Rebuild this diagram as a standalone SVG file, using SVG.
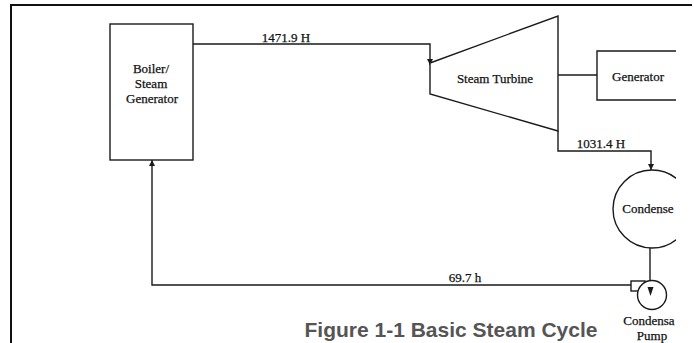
<svg xmlns="http://www.w3.org/2000/svg" width="694" height="343" viewBox="0 0 694 343">
<style>
.ln{fill:none;stroke:#1a1a1a;stroke-width:1.4}
.sh{fill:#fff;stroke:#1a1a1a;stroke-width:1.4}
.t{font-family:"Liberation Serif","Times New Roman",serif;font-size:13px;fill:#111;stroke:#111;stroke-width:0.25;text-anchor:middle}
.cap{font-family:"Liberation Sans",Arial,sans-serif;font-size:21px;font-weight:bold;fill:#555;text-anchor:middle}
</style>
<defs>
<marker id="ah" viewBox="0 0 10 10" refX="10" refY="5" markerWidth="8" markerHeight="6" markerUnits="userSpaceOnUse" orient="auto">
<path d="M0,0 L10,5 L0,10 Z" fill="#1a1a1a"/>
</marker>
<clipPath id="cl"><rect x="0" y="0" width="676" height="343"/></clipPath>
</defs>
<rect width="694" height="343" fill="#fff"/>
<g id="frame" fill="none" stroke="#111" stroke-width="2">
<path d="M11,343 V5 H692"/>
</g>
<g clip-path="url(#cl)">
<g id="connectors">
<path class="ln" d="M193,44 H430 V65" marker-end="url(#ah)"/>
<path class="ln" d="M558,131 V151 H651 V170" marker-end="url(#ah)"/>
<path class="ln" d="M558,75 H597"/>
<path class="ln" d="M650,248 V296" marker-end="url(#ah)"/>
<path class="ln" d="M631,285 H152 V160" marker-end="url(#ah)"/>
</g>
<g id="boiler">
<rect class="sh" x="110" y="24" width="83" height="136"/>
<text class="t" x="151" y="73">Boiler/</text>
<text class="t" x="151" y="88">Steam</text>
<text class="t" x="152" y="103">Generator</text>
</g>
<g id="turbine">
<path class="sh" d="M430,63 L558,16 V131 L430,94 Z"/>
<text class="t" x="495" y="83">Steam Turbine</text>
</g>
<g id="generator">
<path class="ln" d="M680,51 H597 V100 H680"/>
<text class="t" x="638" y="81">Generator</text>
</g>
<g id="label-1471">
<text class="t" x="286" y="42">1471.9 H</text>
</g>
<g id="label-1031">
<text class="t" x="601" y="148">1031.4 H</text>
</g>
<g id="condenser">
<circle class="sh" cx="652" cy="209" r="39"/>
<text class="t" x="648" y="213">Condense</text>
</g>
<g id="pump">
<rect class="sh" x="631" y="281" width="14" height="10"/>
<circle class="sh" cx="652" cy="295" r="14.5"/>
<path d="M647.5,287 L650.5,296 L653.5,287 Z" fill="#1a1a1a"/>
<text class="t" x="649" y="325">Condensa</text>
<text class="t" x="652" y="340">Pump</text>
</g>
<g id="label-697">
<text class="t" x="465" y="282">69.7 h</text>
</g>
</g>
<g id="caption">
<text class="cap" x="451" y="337">Figure 1-1 Basic Steam Cycle</text>
</g>
</svg>
